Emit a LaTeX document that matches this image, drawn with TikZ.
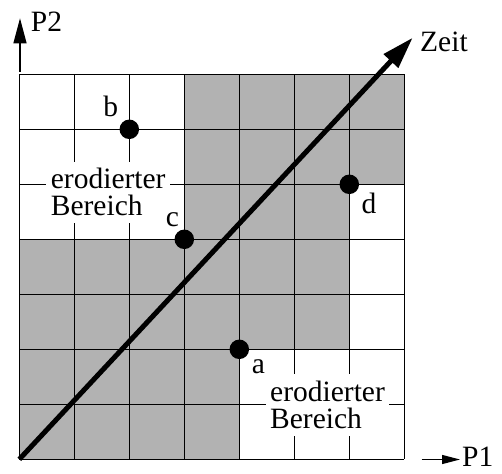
\documentclass[tikz,border=0pt]{standalone}
\usepackage{fontspec}
\setmainfont{Liberation Serif}
\usetikzlibrary{arrows.meta}
\begin{document}
\begin{tikzpicture}[x=1pt,y=-1pt,
  txt/.style={font=\fontsize{29.5}{27}\selectfont, inner sep=0pt},
  region/.style={font=\fontsize{29.5}{27}\selectfont, fill=white, align=left, inner xsep=4.5pt, inner ysep=7pt, anchor=north west},
  gridline/.style={line width=1.3pt},
  dot/.style={circle, fill=black, minimum size=19.5pt, inner sep=0pt},
  axis/.style={line width=1.3pt},
  timeline/.style={line width=5pt}
  ]
\useasboundingbox (0,0) rectangle (502,473);
% eroded (grey) area
\fill[black!30] (19.3,459.3) -- (239.3,459.3) -- (239.3,349.3) -- (349.3,349.3) -- (349.3,184.3) -- (404.3,184.3) -- (404.3,74.3) -- (184.3,74.3) -- (184.3,239.3) -- (19.3,239.3) -- cycle;
% grid
\foreach \i in {0,...,7} {
  \draw[gridline] ({19.3+55*\i},74.3) -- ({19.3+55*\i},459.3);
  \draw[gridline] (19.3,{74.3+55*\i}) -- (404.3,{74.3+55*\i});
}
% region labels
\node[region] (ero1) at (46.2,161.3) {erodierter\\Bereich};
\node[region] (ero2) at (265.5,373.7) {erodierter\\Bereich};
% time arrow
\coordinate (corner) at (19.3,459.3);
\coordinate (zeittip) at (412.7,37.7);
\draw[timeline, -{Triangle[length=32pt,width=19pt]}] (corner) -- (zeittip);
% dots
\node[dot] (a) at (239.3,349.3) {};
\node[dot] (b) at (129.3,129.3) {};
\node[dot] (c) at (184.3,239.3) {};
\node[dot] (d) at (349.3,184.3) {};
% letters
\node[txt, anchor=base] (la) at (258.3,373.3) {a};
\node[txt, anchor=base] (lb) at (110.7,116.7) {b};
\node[txt, anchor=base] (lc) at (172.5,226.7) {c};
\node[txt, anchor=base] (ld) at (369,213.3) {d};
\node[txt, anchor=base west] (zeit) at (420,51.7) {Zeit};
\node[txt, anchor=base west] (p2) at (30.7,31.7) {P2};
\node[txt, anchor=base west] (p1) at (462,466.5) {P1};
% axes
\coordinate (p2s) at (20,71.7);
\coordinate (p2t) at (20,18.3);
\draw[axis, -{Triangle[length=25pt,width=13pt]}] (p2s) -- (p2t);
\coordinate (p1s) at (421.7,459.5);
\coordinate (p1t) at (460,459.5);
\draw[axis, -{Triangle[length=18pt,width=9pt]}] (p1s) -- (p1t);
\end{tikzpicture}
\end{document}
